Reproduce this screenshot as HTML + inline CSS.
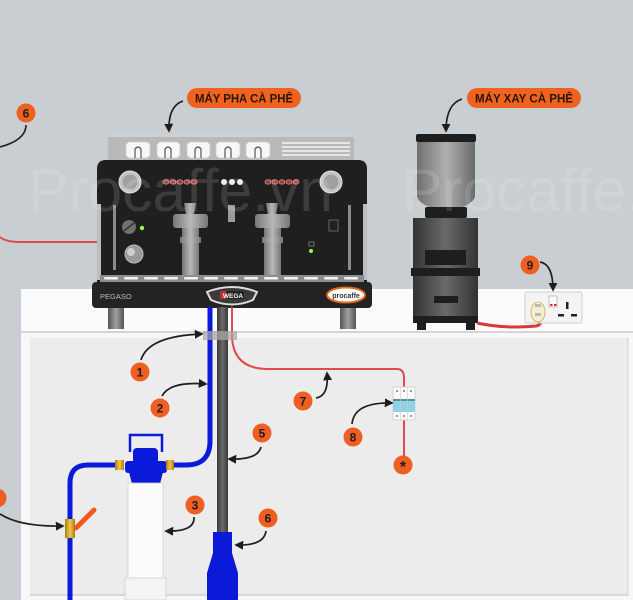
<!DOCTYPE html>
<html><head><meta charset="utf-8"><style>
html,body{margin:0;padding:0;background:#c8ced2;}
svg{display:block;}
text{font-family:"Liberation Sans",sans-serif;}
</style></head><body>
<svg width="633" height="600" viewBox="0 0 633 600" xmlns="http://www.w3.org/2000/svg">
<defs>
<marker id="ah" viewBox="0 0 10 10" refX="8" refY="5" markerWidth="9" markerHeight="9" markerUnits="userSpaceOnUse" orient="auto">
<path d="M0,0 L10,5 L0,10 z" fill="#1e1e1e"/></marker>
<linearGradient id="gfoot" x1="0" x2="1"><stop offset="0" stop-color="#555"/><stop offset="0.5" stop-color="#a0a0a0"/><stop offset="1" stop-color="#555"/></linearGradient>
<linearGradient id="gpipe" x1="0" x2="1"><stop offset="0" stop-color="#3a3a3a"/><stop offset="0.5" stop-color="#6a6a6a"/><stop offset="1" stop-color="#3a3a3a"/></linearGradient>
<linearGradient id="ghop" x1="0" x2="1"><stop offset="0" stop-color="#6f6f6f"/><stop offset="0.5" stop-color="#b0b0b0"/><stop offset="1" stop-color="#6a6a6a"/></linearGradient>
<linearGradient id="gbody" x1="0" x2="1"><stop offset="0" stop-color="#333"/><stop offset="0.5" stop-color="#6a6a6a"/><stop offset="1" stop-color="#333"/></linearGradient>
<linearGradient id="gbrass" x1="0" x2="1"><stop offset="0" stop-color="#a87b10"/><stop offset="0.5" stop-color="#f0c84a"/><stop offset="1" stop-color="#a87b10"/></linearGradient>
<linearGradient id="ggh" x1="0" x2="1"><stop offset="0" stop-color="#777"/><stop offset="0.5" stop-color="#b8b8b8"/><stop offset="1" stop-color="#777"/></linearGradient>
</defs>

<rect x="0" y="0" width="633" height="600" fill="#c8ced2"/>
<rect x="21" y="289" width="612" height="43" fill="#fbfbfb"/>
<rect x="21" y="331" width="612" height="2" fill="#d6d6d6"/>
<rect x="21" y="333" width="612" height="267" fill="#f7f7f7"/>
<rect x="30" y="338" width="598" height="257" fill="#ececec"/>
<rect x="30" y="594" width="598" height="2" fill="#d8d8d8"/>
<rect x="627" y="338" width="1.5" height="258" fill="#d8d8d8"/>

<path d="M0,237 Q6,242 20,242 L97,242" stroke="#e04a4a" stroke-width="2" fill="none"/>
<path d="M26,125 Q26,140 0,147" stroke="#1e1e1e" stroke-width="1.6" fill="none"/>

<!-- ESPRESSO MACHINE -->
<rect x="108" y="134" width="246" height="27" fill="#b9b9b9"/>
<rect x="108" y="134" width="246" height="3" fill="#d0d0d0"/>
<g fill="#f7f7f7" stroke="#cfcfcf" stroke-width="0.8">
<rect x="126" y="142" width="24" height="16" rx="4"/>
<rect x="157" y="142" width="23" height="16" rx="4"/>
<rect x="187" y="142" width="23" height="16" rx="4"/>
<rect x="216" y="142" width="24" height="16" rx="4"/>
<rect x="246" y="142" width="24" height="16" rx="4"/>
</g>
<g fill="none" stroke="#555" stroke-width="1.2">
<path d="M135,158 L135,149 Q138,145 141,149 L141,158"/>
<path d="M165,158 L165,149 Q168,145 171,149 L171,158"/>
<path d="M195,158 L195,149 Q198,145 201,149 L201,158"/>
<path d="M225,158 L225,149 Q228,145 231,149 L231,158"/>
<path d="M255,158 L255,149 Q258,145 261,149 L261,158"/>
</g>
<g stroke="#f4f4f4" stroke-width="1.6">
<line x1="282" y1="143" x2="350" y2="143"/><line x1="282" y1="147" x2="350" y2="147"/>
<line x1="282" y1="151" x2="350" y2="151"/><line x1="282" y1="155" x2="350" y2="155"/>
</g>
<path d="M97,169 Q97,160 106,160 L358,160 Q367,160 367,169 L367,283 L97,283 Z" fill="#1f1f1f"/>
<rect x="97" y="204" width="4" height="76" fill="#bdbdbd"/>
<rect x="363" y="204" width="4" height="76" fill="#bdbdbd"/>
<rect x="113" y="205" width="3" height="65" fill="#8a8a8a"/>
<rect x="348" y="205" width="3" height="65" fill="#8a8a8a"/>
<circle cx="130" cy="182" r="11" fill="#c4c4c4" stroke="#e0e0e0"/>
<circle cx="130" cy="182" r="7.5" fill="#a0a0a0"/>
<circle cx="331" cy="182" r="11" fill="#c4c4c4" stroke="#e0e0e0"/>
<circle cx="331" cy="182" r="7.5" fill="#a0a0a0"/>
<g fill="#9c3838" stroke="#e08a8a" stroke-width="0.8">
<ellipse cx="166" cy="182" rx="3" ry="2.2"/><ellipse cx="173" cy="182" rx="3" ry="2.2"/><ellipse cx="180" cy="182" rx="3" ry="2.2"/><ellipse cx="187" cy="182" rx="3" ry="2.2"/><ellipse cx="194" cy="182" rx="3" ry="2.2"/>
<ellipse cx="268" cy="182" rx="3" ry="2.2"/><ellipse cx="275" cy="182" rx="3" ry="2.2"/><ellipse cx="282" cy="182" rx="3" ry="2.2"/><ellipse cx="289" cy="182" rx="3" ry="2.2"/><ellipse cx="296" cy="182" rx="3" ry="2.2"/>
</g>
<g fill="#eeeeee"><circle cx="224" cy="182" r="3"/><circle cx="232" cy="182" r="3"/><circle cx="240" cy="182" r="3"/></g>
<rect x="228" y="205" width="7" height="17" fill="#9a9a9a"/>
<g fill="url(#ggh)">
<path d="M184,203 L196,203 L194,215 L186,215 Z"/>
<rect x="173" y="214" width="35" height="14" rx="3"/>
<rect x="182" y="228" width="17" height="48"/>
<rect x="180" y="237" width="21" height="6"/>
<path d="M266,203 L278,203 L276,215 L268,215 Z"/>
<rect x="255" y="214" width="35" height="14" rx="3"/>
<rect x="264" y="228" width="17" height="48"/>
<rect x="262" y="237" width="21" height="6"/>
</g>
<circle cx="129" cy="227" r="7" fill="#707070"/>
<line x1="124" y1="231" x2="134" y2="223" stroke="#333" stroke-width="1.5"/>
<circle cx="142" cy="228" r="2.2" fill="#9f4"/>
<circle cx="134" cy="254" r="9" fill="#9a9a9a" stroke="#bbb"/>
<circle cx="131" cy="252" r="4" fill="#cfcfcf"/>
<rect x="329" y="220" width="9" height="11" fill="none" stroke="#666" stroke-width="1"/>
<rect x="309" y="242" width="5" height="4" fill="none" stroke="#888" stroke-width="0.8"/>
<circle cx="311" cy="251" r="2" fill="#9f4"/>
<rect x="100" y="275" width="264" height="7" fill="#8d8d8d"/>
<g fill="#f2f2f2"><rect x="104" y="277" width="14" height="2.5" rx="1"/><rect x="124" y="277" width="14" height="2.5" rx="1"/><rect x="144" y="277" width="14" height="2.5" rx="1"/><rect x="164" y="277" width="14" height="2.5" rx="1"/><rect x="184" y="277" width="14" height="2.5" rx="1"/><rect x="204" y="277" width="14" height="2.5" rx="1"/><rect x="224" y="277" width="14" height="2.5" rx="1"/><rect x="244" y="277" width="14" height="2.5" rx="1"/><rect x="264" y="277" width="14" height="2.5" rx="1"/><rect x="284" y="277" width="14" height="2.5" rx="1"/><rect x="304" y="277" width="14" height="2.5" rx="1"/><rect x="324" y="277" width="14" height="2.5" rx="1"/><rect x="344" y="277" width="14" height="2.5" rx="1"/></g>
<rect x="108" y="307" width="16" height="22" fill="url(#gfoot)"/>
<rect x="340" y="307" width="16" height="22" fill="url(#gfoot)"/>
<rect x="92" y="282" width="280" height="26" rx="4" fill="#232323"/>
<text x="100" y="299" font-size="7.5" fill="#bdbdbd">PEGASO</text>
<ellipse cx="346" cy="295" rx="19" ry="7.5" fill="#fff" stroke="#e6661e" stroke-width="2"/>
<text x="346" y="298" font-size="7" font-weight="bold" fill="#333" text-anchor="middle">procaffe</text>
<path d="M207,292 Q232,282 257,292 L253,300 Q232,309 211,300 Z" fill="#3a3a3a" stroke="#dcdcdc" stroke-width="2"/>
<rect x="220" y="291" width="24" height="8" fill="#222"/>
<rect x="220" y="291" width="6" height="8" fill="#c03030"/>
<text x="233" y="298" font-size="6.5" font-weight="bold" fill="#fff" text-anchor="middle">WEGA</text>

<!-- GRINDER -->
<path d="M417,142 L475,142 L475,196 Q474,203 460,208 L432,208 Q418,203 417,196 Z" fill="url(#ghop)"/>
<rect x="416" y="134" width="60" height="8" rx="2" fill="#1e1e1e"/>
<rect x="425" y="207" width="42" height="11" rx="2" fill="#1e1e1e"/>
<path d="M413,218 L478,218 L478,318 L413,318 Z" fill="url(#gbody)"/>
<rect x="425" y="250" width="41" height="15" fill="#1e1e1e"/>
<rect x="411" y="268" width="69" height="8" fill="#1e1e1e"/>
<rect x="434" y="296" width="24" height="7" fill="#1e1e1e"/>
<rect x="413" y="316" width="65" height="7" fill="#1e1e1e"/>
<rect x="417" y="322" width="9" height="8" fill="#1e1e1e"/>
<rect x="466" y="322" width="9" height="8" fill="#1e1e1e"/>

<!-- socket -->
<path d="M477,323 Q505,329 536,326 Q542,325 541,318" stroke="#d63a3a" stroke-width="3" fill="none"/>
<rect x="525" y="292" width="57" height="31" rx="2" fill="#f4f4f4" stroke="#cfcfcf"/>
<ellipse cx="538" cy="312" rx="7" ry="10" fill="#f5efd0" stroke="#c9b980"/>
<rect x="535" y="304" width="6" height="3" fill="#bbb"/><rect x="535" y="313" width="6" height="3" fill="#bbb"/>
<rect x="549" y="296" width="8" height="11" fill="#fafafa" stroke="#aaa" stroke-width="0.7"/>
<rect x="550" y="304" width="2.5" height="2" fill="#d33"/><rect x="554" y="304" width="2.5" height="2" fill="#d33"/>
<rect x="566" y="302" width="2.5" height="7" fill="#222"/>
<rect x="558" y="314" width="6" height="2.5" fill="#222"/><rect x="571" y="314" width="6" height="2.5" fill="#222"/>

<!-- UNDER COUNTER -->
<path d="M232,307 L232,338 Q234,369 268,369 L397,369 Q404,369 404,378 L404,456" stroke="#e04a4a" stroke-width="2" fill="none"/>
<rect x="393" y="387" width="22" height="33" fill="#fafafa" stroke="#cccccc" stroke-width="0.8"/>
<rect x="393" y="400" width="22" height="12" fill="#8ed3e3"/>
<rect x="393" y="399" width="22" height="2" fill="#5a8fa0"/>
<g fill="#555"><circle cx="397" cy="391" r="0.9"/><circle cx="404" cy="391" r="0.9"/><circle cx="411" cy="391" r="0.9"/><circle cx="397" cy="416" r="0.9"/><circle cx="404" cy="416" r="0.9"/><circle cx="411" cy="416" r="0.9"/></g>
<line x1="400.5" y1="387" x2="400.5" y2="420" stroke="#ccc" stroke-width="0.6"/>
<line x1="407.5" y1="387" x2="407.5" y2="420" stroke="#ccc" stroke-width="0.6"/>

<rect x="217" y="307" width="11" height="228" fill="url(#gpipe)"/>
<path d="M210,307 L210,441 Q210,465 186,465 L172,465" stroke="#0a1ad8" stroke-width="5" fill="none"/>
<path d="M118,465 L88,465 Q70,465 70,483 L70,600" stroke="#0a1ad8" stroke-width="5" fill="none"/>
<rect x="203" y="331" width="34" height="9" fill="#a8a8a8" opacity="0.75"/>
<path d="M213,532 L232,532 L232,553 L238,573 L238,600 L207,600 L207,573 L213,553 Z" fill="#0a1ad8"/>
<rect x="65" y="519" width="10" height="19" fill="url(#gbrass)"/>
<line x1="76" y1="528" x2="94" y2="510" stroke="#f05a1e" stroke-width="5" stroke-linecap="round"/>
<path d="M130,452 L130,435 L162,435 L162,452" stroke="#0a1ad8" stroke-width="2.5" fill="none"/>
<rect x="133" y="448" width="25" height="16" rx="4" fill="#0a1ad8"/>
<rect x="125" y="461" width="42" height="12" rx="3" fill="#0a1ad8"/>
<path d="M129,472 L163,472 L160,484 L132,484 Z" fill="#0a1ad8"/>
<rect x="115" y="460" width="9" height="10" fill="url(#gbrass)"/>
<rect x="166" y="460" width="8" height="10" fill="url(#gbrass)"/>
<rect x="128" y="483" width="35" height="96" fill="#fbfbfb" stroke="#d0d0d0" stroke-width="0.8"/>
<rect x="125" y="578" width="41" height="22" fill="#f4f4f4" stroke="#cfcfcf" stroke-width="0.8"/>

<g stroke="#1e1e1e" stroke-width="1.7" fill="none" marker-end="url(#ah)">
<path d="M183,101 Q168,106 169,131"/>
<path d="M462,99 Q446,104 446,131"/>
<path d="M540,262 Q553,264 553,290"/>
<path d="M141,360 Q148,336 202,334"/>
<path d="M162,396 Q170,381 206,384"/>
<path d="M194,517 Q195,532 166,531"/>
<path d="M0,514 Q20,527 63,526"/>
<path d="M261,447 Q258,460 229,459"/>
<path d="M266,531 Q264,546 236,545"/>
<path d="M316,398 Q329,396 327,373"/>
<path d="M352,424 Q354,402 392,403"/>
</g>

<rect x="187" y="88" width="114" height="20" rx="10" fill="#f0621f"/>
<text x="195" y="102.5" font-size="11.5" font-weight="bold" fill="#2a1608" textLength="98" lengthAdjust="spacingAndGlyphs">MÁY PHA CÀ PHÊ</text>
<rect x="467" y="88" width="114" height="20" rx="10" fill="#f0621f"/>
<text x="475" y="102.5" font-size="11.5" font-weight="bold" fill="#2a1608" textLength="98" lengthAdjust="spacingAndGlyphs">MÁY XAY CÀ PHÊ</text>

<g fill="#ef5f22">
<circle cx="26" cy="113" r="9.5"/><circle cx="530" cy="265" r="9.5"/>
<circle cx="140" cy="372" r="9.5"/><circle cx="160" cy="408" r="9.5"/>
<circle cx="195" cy="505" r="9.5"/><circle cx="262" cy="433" r="9.5"/>
<circle cx="268" cy="518" r="9.5"/><circle cx="303" cy="401" r="9.5"/>
<circle cx="353" cy="437" r="9.5"/><circle cx="403" cy="465" r="9.5"/>
<circle cx="-3" cy="498" r="9.5"/>
</g>
<g font-size="12" font-weight="bold" fill="#1e1e1e" text-anchor="middle">
<text x="26" y="117.5">6</text><text x="530" y="269.5">9</text>
<text x="140" y="376.5">1</text><text x="160" y="412.5">2</text>
<text x="195" y="509.5">3</text><text x="262" y="437.5">5</text>
<text x="268" y="522.5">6</text><text x="303" y="405.5">7</text>
<text x="353" y="441.5">8</text><text x="403" y="472" font-size="16">*</text>
</g>

<g font-size="60" fill="#ffffff" opacity="0.13">
<text x="28" y="211" textLength="305" lengthAdjust="spacingAndGlyphs">Procaffe.vn</text>
<text x="402" y="211" textLength="305" lengthAdjust="spacingAndGlyphs">Procaffe.vn</text>
</g>
</svg>
</body></html>
